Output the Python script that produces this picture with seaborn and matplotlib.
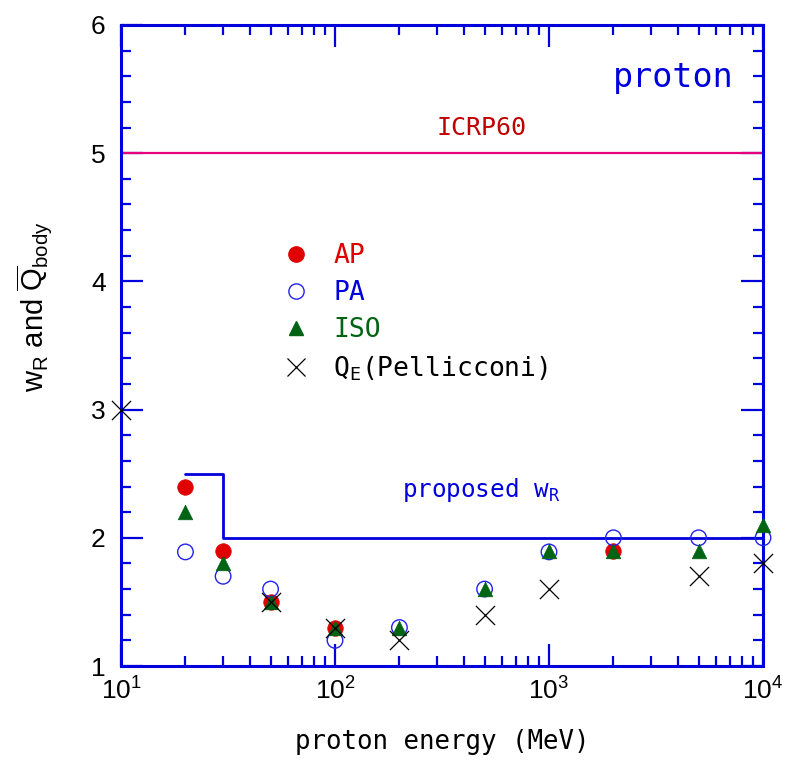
import numpy as np
import pandas as pd
import matplotlib
matplotlib.use("Agg")
import matplotlib.pyplot as plt
from matplotlib.lines import Line2D
import seaborn as sns

# ---- data ----
ap_energy = [20, 30, 50, 100, 2000]
ap_value = [2.4, 1.9, 1.5, 1.3, 1.9]

pa_energy = [20, 30, 50, 100, 200, 500, 1000, 2000, 5000, 10000]
pa_value = [1.89, 1.7, 1.6, 1.2, 1.3, 1.6, 1.89, 2.0, 2.0, 2.0]

iso_energy = [20, 30, 50, 100, 200, 500, 1000, 2000, 5000, 10000]
iso_value = [2.2, 1.8, 1.5, 1.3, 1.3, 1.6, 1.9, 1.9, 1.9, 2.1]

qe_energy = [10, 50, 100, 200, 500, 1000, 5000, 10000]
qe_value = [3.0, 1.5, 1.3, 1.2, 1.4, 1.6, 1.7, 1.8]

proposed_energy = [20, 30, 30, 10000]
proposed_value = [2.5, 2.5, 2.0, 2.0]

icrp_energy = [10, 10000]
icrp_value = [5.0, 5.0]

x_limits = [10, 10000]
y_ticks = [1, 2, 3, 4, 5, 6]

# ---- style ----
sns.set_theme(style="ticks")
plt.rcParams["font.family"] = ["Liberation Sans", "DejaVu Sans"]
plt.rcParams["mathtext.default"] = "regular"
plt.rcParams["text.color"] = "black"
plt.rcParams["axes.labelcolor"] = "black"

BLUE = "#0000dd"
RED = "#e00000"
GREEN = "#006414"
MONO = "DejaVu Sans Mono"

fig = plt.figure(figsize=(7.88, 7.6), dpi=100)
ax = fig.add_axes([121 / 788, 1 - 666 / 760, 642 / 788, 641 / 760])

ax.set_xscale("log")

# lines
sns.lineplot(x=icrp_energy, y=icrp_value, ax=ax, color="#e6007e", lw=1.6,
             estimator=None, sort=False, legend=False)
sns.lineplot(x=proposed_energy, y=proposed_value, ax=ax, color=BLUE, lw=2.0,
             estimator=None, sort=False, legend=False)

# scatter series
sns.scatterplot(x=ap_energy, y=ap_value, ax=ax, marker="o", s=125, color=RED,
                edgecolor=RED, linewidth=0.5, clip_on=False, zorder=3)
sns.scatterplot(x=pa_energy, y=pa_value, ax=ax, marker="o", s=125,
                facecolor="none", edgecolor="#2222ee", linewidth=1.0,
                clip_on=False, zorder=4)
sns.scatterplot(x=iso_energy, y=iso_value, ax=ax, marker="^", s=110, color=GREEN,
                edgecolor=GREEN, linewidth=0.5, clip_on=False, zorder=5)
sns.scatterplot(x=qe_energy, y=qe_value, ax=ax, marker="x", s=190, color="black",
                linewidth=0.9, clip_on=False, zorder=6)

ax.set_xlim(*x_limits)
ax.set_ylim(1, 6)
ax.set_yticks(y_ticks)
ax.yaxis.set_minor_locator(matplotlib.ticker.MultipleLocator(0.2))
ax.xaxis.set_minor_locator(matplotlib.ticker.LogLocator(base=10, subs=np.arange(2, 10)))
ax.xaxis.set_minor_formatter(matplotlib.ticker.NullFormatter())

for sp in ax.spines.values():
    sp.set_color(BLUE)
    sp.set_linewidth(2.2)
    sp.set_visible(True)

ax.tick_params(which="both", direction="in", top=True, right=True, color=BLUE,
               labelcolor="black")
ax.tick_params(which="major", length=16, width=1.6, labelsize=19, pad=11)
ax.tick_params(which="minor", length=7.5, width=1.6)
ax.tick_params(axis="x", which="major", pad=8)
ax.grid(False)

ax.set_xlabel("proton energy (MeV)", fontfamily=MONO, fontsize=18.5, labelpad=18)
ax.set_ylabel(r"w$_\mathregular{R}$ and $\overline{\mathregular{Q}}_\mathregular{body}$",
              fontsize=21)
ax.yaxis.set_label_coords(-0.105, 0.56)

# annotations
ax.text(0.955, 0.918, "proton", transform=ax.transAxes, ha="right", va="center",
        fontfamily=MONO, fontsize=24, color=BLUE)
ax.text(0.562, 0.840, "ICRP60", transform=ax.transAxes, ha="center", va="center",
        fontfamily=MONO, fontsize=18, color="#c00000")
ax.text(0.438, 0.275, r"proposed w$_\mathregular{R}$", transform=ax.transAxes,
        ha="left", va="center", fontfamily=MONO, fontsize=17.5, color=BLUE)

handles = [
    Line2D([], [], ls="none", marker="o", ms=11, color=RED, mec=RED),
    Line2D([], [], ls="none", marker="o", ms=11, mfc="none", mec="#2222ee", mew=1.0),
    Line2D([], [], ls="none", marker="^", ms=10, color=GREEN, mec=GREEN),
    Line2D([], [], ls="none", marker="x", ms=13, color="black", mew=0.9),
]
labels = ["AP", "PA", "ISO", r"Q$_\mathregular{E}$(Pellicconi)"]
ax.legend(handles, labels, loc="upper left", bbox_to_anchor=(0.232, 0.676),
          frameon=False, prop={"family": MONO, "size": 19},
          labelcolor=[RED, BLUE, GREEN, "black"], handletextpad=0.8,
          labelspacing=0.42, handlelength=1.2, borderaxespad=0)

fig.savefig("out.png", dpi=100)
